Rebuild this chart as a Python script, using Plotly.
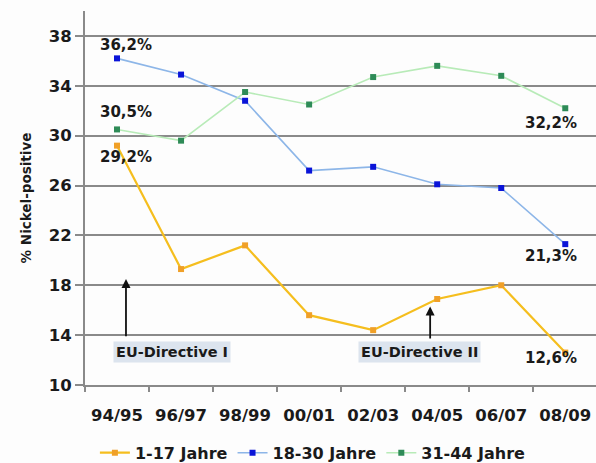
import plotly.graph_objects as go

# Survey periods and share of nickel-positive patch tests per age group (%)
periods = ["94/95", "96/97", "98/99", "00/01", "02/03", "04/05", "06/07", "08/09"]
age_1_17 = [29.2, 19.3, 21.2, 15.6, 14.4, 16.9, 18.0, 12.6]
age_18_30 = [36.2, 34.9, 32.8, 27.2, 27.5, 26.1, 25.8, 21.3]
age_31_44 = [30.5, 29.6, 33.5, 32.5, 34.7, 35.6, 34.8, 32.2]
series_names = ["1-17 Jahre", "18-30 Jahre", "31-44 Jahre"]
y_ticks = [10, 14, 18, 22, 26, 30, 34, 38]

FONT = "DejaVu Sans"
TXT = "#1a1a1a"
AXIS = "#8a8a8a"

fig = go.Figure()

styles = [
    (age_1_17, "#F5BE1E", "#F0A028", 2.2),
    (age_18_30, "#8DB6E8", "#0A14D8", 1.6),
    (age_31_44, "#B8EBB8", "#2E8B57", 1.6),
]
for name, (vals, lc, mc, lw) in zip(series_names, styles):
    fig.add_trace(go.Scatter(
        x=periods, y=vals, name=name, mode="lines+markers",
        line=dict(color=lc, width=lw),
        marker=dict(symbol="square", size=6, color=mc),
    ))


def pct(v):
    return f"{v:.1f}%".replace(".", ",")


# value labels at the first and last period: (value, index, x shift, y shift)
value_labels = [
    (age_18_30[0], 0, 9, 13),
    (age_31_44[0], 0, 9, 17),
    (age_1_17[0], 0, 9, -11),
    (age_31_44[-1], 7, -14, -15),
    (age_18_30[-1], 7, -14, -12),
    (age_1_17[-1], 7, -14, -5),
]
for v, i, xs, ys in value_labels:
    fig.add_annotation(
        x=i, y=v, xref="x", yref="y", text=pct(v), showarrow=False,
        xshift=xs, yshift=ys,
        font=dict(family=FONT, size=15, color=TXT, weight="bold"),
    )

# EU directive markers: arrow plus boxed label
directives = [
    ("EU-Directive I", 0.14, 18.5, 13.8, 0.86),
    ("EU-Directive II", 4.89, 16.3, 13.6, 4.73),
]
for label, ax_x, tip, tail, lx in directives:
    fig.add_annotation(
        x=ax_x, y=tip, ax=ax_x, ay=tail, xref="x", yref="y",
        axref="x", ayref="y", text="", showarrow=True,
        arrowhead=2, arrowsize=1, arrowwidth=1.8, arrowcolor="#111111",
    )
    fig.add_annotation(
        x=lx, y=12.65, xref="x", yref="y", text=label, showarrow=False,
        bgcolor="#DCE4EE", borderpad=2,
        font=dict(family=FONT, size=14.5, color=TXT, weight="bold"),
    )

fig.update_layout(
    width=596, height=463,
    margin=dict(l=85, r=0, t=11, b=78, autoexpand=False),
    paper_bgcolor="#FDFDFD", plot_bgcolor="#FDFDFD",
    font=dict(family=FONT, color=TXT),
    showlegend=True,
    legend=dict(
        orientation="h", x=0.525, xanchor="center", xref="container",
        y=0.022, yanchor="middle", yref="container",
        font=dict(family=FONT, size=16, color=TXT, weight="bold"),
        itemwidth=30, tracegroupgap=0, bgcolor="rgba(0,0,0,0)",
    ),
    xaxis=dict(
        type="category", range=[-0.5, 7.48],
        tickson="boundaries", ticks="outside", ticklen=5,
        tickcolor=AXIS, tickwidth=1.5,
        showline=True, linecolor=AXIS, linewidth=2,
        showgrid=False,
        ticklabelstandoff=14,
        tickfont=dict(family=FONT, size=16.5, color=TXT, weight="bold"),
    ),
    yaxis=dict(
        range=[10, 40], tickvals=y_ticks,
        ticks="outside", ticklen=8, tickcolor=AXIS, tickwidth=1.5,
        showline=True, linecolor=AXIS, linewidth=2,
        showgrid=True, gridcolor=AXIS, gridwidth=1.5,
        zeroline=False,
        tickfont=dict(family=FONT, size=16.5, color=TXT, weight="bold"),
        title=dict(text="% Nickel-positive", standoff=14,
                   font=dict(family=FONT, size=13.5, color=TXT, weight="bold")),
    ),
)

fig.write_html("out.html")
